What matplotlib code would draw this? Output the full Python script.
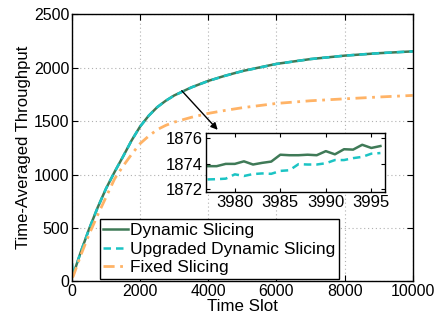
import numpy as np
import matplotlib
matplotlib.use("Agg")
import matplotlib.pyplot as plt

plt.rcParams["font.family"] = ["Liberation Sans", "DejaVu Sans"]
plt.rcParams["font.size"] = 11.5

# ── main curves ──────────────────────────────────────────────────────────
t_slot = [0, 30, 250, 500, 750, 1000, 1250, 1500, 1750, 2000, 2250, 2500,
          2750, 3000, 3500, 4000, 4500, 5000, 6000, 7000, 8000, 9000, 10000]
dynamic = [50, 60, 270, 490, 690, 870, 1025, 1170, 1320, 1450, 1550, 1630,
           1690, 1740, 1815, 1876, 1925, 1968, 2035, 2080, 2112, 2135, 2152]
upgraded = [170, 60, 270, 490, 690, 870, 1025, 1170, 1320, 1450, 1550, 1630,
            1690, 1739, 1814, 1875, 1924, 1967, 2034, 2080, 2112, 2135, 2152]
fixed = [40, 45, 240, 440, 620, 790, 960, 1080, 1190, 1290, 1360, 1420,
         1460, 1490, 1535, 1572, 1600, 1625, 1665, 1690, 1708, 1725, 1740]

# ── zoomed-in window ─────────────────────────────────────────────────────
t_zoom = list(range(3977, 3997))
dynamic_zoom = [1873.82, 1873.82, 1874.0, 1874.0, 1874.2, 1873.95, 1874.08,
                1874.18, 1874.72, 1874.68, 1874.68, 1874.72, 1874.68, 1875.0,
                1874.75, 1875.15, 1875.12, 1875.5, 1875.25, 1875.4]
upgraded_zoom = [1872.78, 1872.8, 1872.84, 1873.18, 1873.05, 1873.2, 1873.25,
                 1873.22, 1873.45, 1873.5, 1873.98, 1873.95, 1873.95, 1874.05,
                 1874.3, 1874.3, 1874.45, 1874.55, 1874.8, 1874.85]

labels = ["Dynamic Slicing", "Upgraded Dynamic Slicing", "Fixed Slicing"]
C_DYN = "#3f7a57"
C_UPG = "#1cc4c4"
C_FIX = "#ffb366"

fig = plt.figure(figsize=(4.34, 3.22), dpi=100)
ax = fig.add_axes([0.166, 0.126, 0.785, 0.83])

ax.plot(t_slot, dynamic, color=C_DYN, lw=1.8, ls="-", label=labels[0])
ax.plot(t_slot, upgraded, color=C_UPG, lw=1.8, ls=(0, (3, 2)), label=labels[1])
ax.plot(t_slot, fixed, color=C_FIX, lw=2.0, ls=(0, (4, 2, 1, 2)), label=labels[2])

ax.set_xlim(0, 10000)
ax.set_ylim(0, 2500)
ax.set_xticks([0, 2000, 4000, 6000, 8000, 10000])
ax.set_yticks([0, 500, 1000, 1500, 2000, 2500])
ax.grid(True, color="#b0b0b0", ls=(0, (1, 2.5)), lw=0.8)
ax.tick_params(direction="in", top=True, right=True, length=4, pad=2)
for sp in ax.spines.values():
    sp.set_linewidth(1.0)
ax.set_xlabel("Time Slot", labelpad=0, fontsize=12.2)
ax.set_ylabel("Time-Averaged Throughput", labelpad=2, fontsize=12)

leg = ax.legend(loc="lower left", bbox_to_anchor=(0.082, 0.01),
                borderaxespad=0, fancybox=False, framealpha=1,
                edgecolor="black", fontsize=12.5, handlelength=1.4,
                handletextpad=0.15, borderpad=0.2, labelspacing=0.2)
leg.get_frame().set_linewidth(1.0)

# arrow from the curve to the inset
ax.annotate("", xy=(4275, 1418), xytext=(3221, 1784),
            arrowprops=dict(arrowstyle="-|>", color="black", lw=1.0,
                            mutation_scale=10, shrinkA=0, shrinkB=0))

# ── inset ────────────────────────────────────────────────────────────────
ins = fig.add_axes([0.474, 0.404, 0.413, 0.182])
ins.plot(t_zoom, dynamic_zoom, color=C_DYN, lw=1.8, ls="-")
ins.plot(t_zoom, upgraded_zoom, color=C_UPG, lw=1.8, ls=(0, (3, 2)))
ins.set_xlim(3976.8, 3996.5)
ins.set_ylim(1871.8, 1876.4)
ins.set_xticks([3980, 3985, 3990, 3995])
ins.set_yticks([1872, 1874, 1876])
ins.tick_params(direction="in", top=True, right=True, length=3, pad=2,
                labelsize=12)
for sp in ins.spines.values():
    sp.set_linewidth(1.0)

fig.savefig("out.png", dpi=100)
